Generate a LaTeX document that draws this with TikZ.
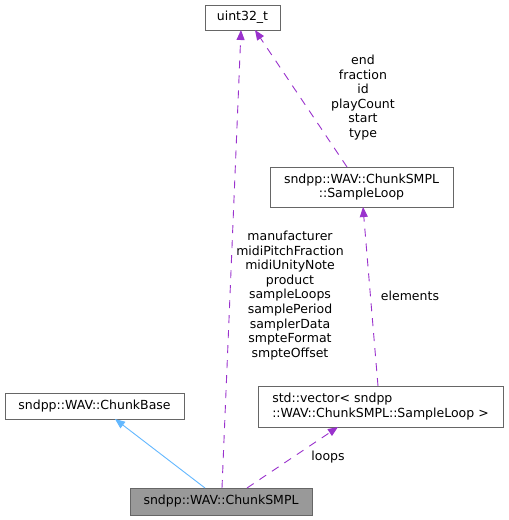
\documentclass[tikz,border=0pt]{standalone}
\usepackage{fontspec}
\setmainfont{DejaVu Sans}
\usetikzlibrary{arrows.meta}
\definecolor{edgepurple}{HTML}{9A32CD}
\definecolor{edgeblue}{HTML}{63B8FF}
\definecolor{boxborder}{HTML}{666666}
\definecolor{boxfill}{HTML}{999999}
\tikzset{
  cls/.style={draw=boxborder, line width=0.9pt, fill=white, inner sep=0pt, outer sep=0pt,
    font=\fontsize{12.5}{14.6}\selectfont, text=black},
  usage/.style={draw=edgepurple, line width=0.9pt, dash pattern=on 8pt off 7pt,
    -{Triangle[length=10pt,width=8pt,fill=edgepurple]}},
  inherit/.style={draw=edgeblue, line width=0.9pt,
    -{Triangle[length=10pt,width=8pt,fill=edgeblue]}},
  lbl/.style={font=\fontsize{12.5}{14.6}\selectfont, align=center, inner sep=0pt, text=black}
}
\begin{document}
\begin{tikzpicture}[x=1pt,y=-1pt]
\useasboundingbox[fill=white] (0,0) rectangle (509,520);
\node[cls, minimum width=75pt, minimum height=25pt] (u) at (242.5,17.5) {uint32\_t};
\node[cls, minimum width=183pt, minimum height=40pt, align=center] (sl) at (361.5,187) {sndpp::WAV::ChunkSMPL\\::SampleLoop};
\node[cls, minimum width=179pt, minimum height=26pt] (base) at (94.5,406) {sndpp::WAV::ChunkBase};
\node[cls, minimum width=245pt, minimum height=41pt, align=left] (vec) at (380.5,406.5) {std::vector\textless{} sndpp\\::WAV::ChunkSMPL::SampleLoop \textgreater};
\node[cls, fill=boxfill, minimum width=182pt, minimum height=27pt] (smpl) at (221,501.5) {sndpp::WAV::ChunkSMPL};

\draw[usage] ([xshift=1pt]smpl.north) -- ([xshift=-1.5pt]u.south);
\draw[usage] ([xshift=-14.5pt]sl.north) -- ([xshift=12.5pt]u.south);
\draw[usage] ([xshift=-2.5pt]vec.north) -- ([xshift=1.5pt]sl.south);
\draw[usage] ([xshift=26pt]smpl.north) -- ([xshift=-42.5pt]vec.south);
\draw[inherit] ([xshift=-16pt]smpl.north) -- ([xshift=20.5pt]base.south);

\node[lbl] (l1) at (363,97.5) {end\\fraction\\id\\playCount\\start\\type};
\node[lbl] (l2) at (290,295.5) {manufacturer\\midiPitchFraction\\midiUnityNote\\product\\sampleLoops\\samplePeriod\\samplerData\\smpteFormat\\smpteOffset};
\node[lbl] (l3) at (410,295.5) {elements};
\node[lbl] (l4) at (328,457) {loops};
\end{tikzpicture}
\end{document}
